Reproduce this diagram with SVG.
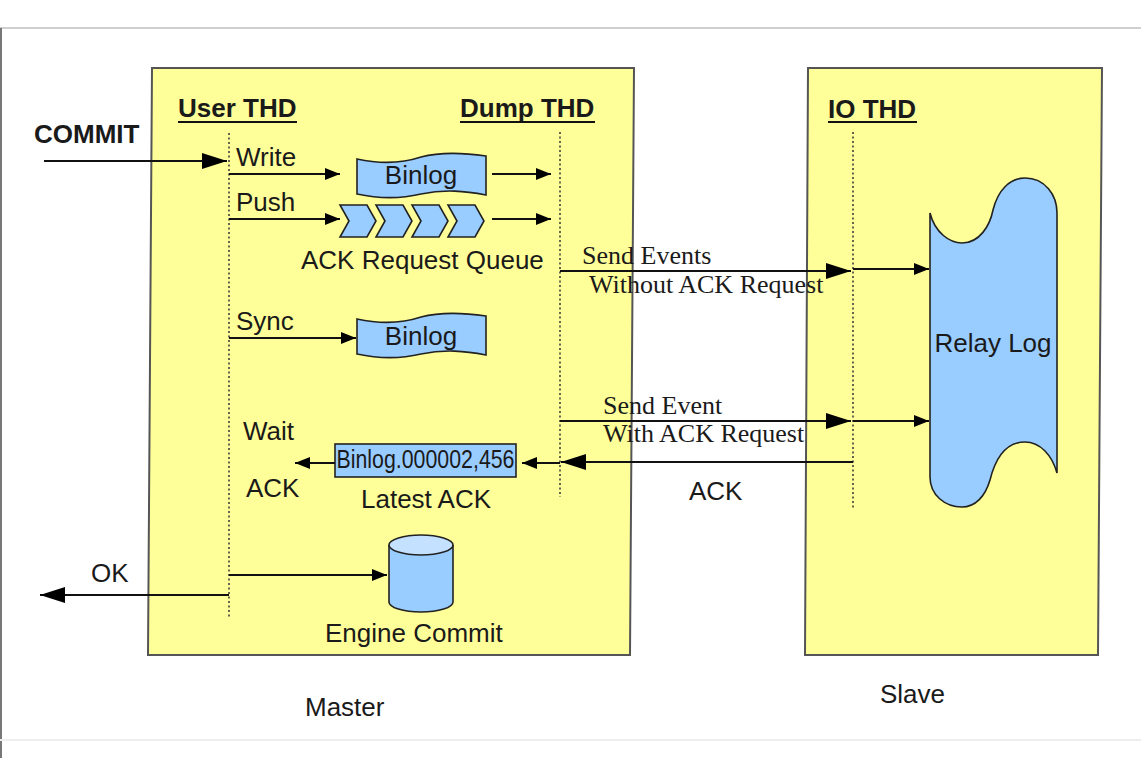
<svg xmlns="http://www.w3.org/2000/svg" width="1141" height="758" viewBox="0 0 1141 758">
  <style>
    .t { font-family: "Liberation Sans", Arial, sans-serif; font-size: 26px; fill: #1a1a1a; }
    .b { font-weight: bold; }
    .s { font-family: "Liberation Serif", "Times New Roman", serif; font-size: 26px; fill: #1a1a1a; }
    .box { fill: #ffff99; stroke: #555; stroke-width: 2; }
    .blue { fill: #99ccff; stroke: #222; stroke-width: 1.6; }
    .life { fill: none; stroke: #333; stroke-width: 1.5; stroke-dasharray: 2 2.5; }
    .ln { fill: none; stroke: #111; stroke-width: 2; }
    .ul { stroke: #111; stroke-width: 2; }
  </style>
  <defs>
    <marker id="ah" markerUnits="userSpaceOnUse" markerWidth="15" markerHeight="12" refX="15" refY="6" orient="auto">
      <path d="M0,0 L15,6 L0,12 Z" fill="#000"/>
    </marker>
    <marker id="ahL" markerUnits="userSpaceOnUse" markerWidth="25" markerHeight="16" refX="25" refY="8" orient="auto">
      <path d="M0,0 L25,8 L0,16 Z" fill="#000"/>
    </marker>
    <!-- punched-tape shape used for the binlog files -->
    <path id="tape" d="M0,3 C23,8 43,8 64,1 C83,-4 108,-3 129,0 L129,39 C108,35 88,33 64,38 C43,43 23,43 0,38 Z"/>
  </defs>

  <!-- page frame -->
  <rect x="0" y="0" width="1141" height="758" fill="#fff"/>
  <line x1="0" y1="28" x2="1141" y2="28" stroke="#d0d0d0" stroke-width="2"/>
  <line x1="1" y1="28" x2="1" y2="758" stroke="#777" stroke-width="2"/>
  <line x1="0" y1="740" x2="1141" y2="740" stroke="#eeeeee" stroke-width="2"/>

  <!-- containers -->
  <g id="master">
    <polygon class="box" points="152,68 634,68 630,655 148,655"/>
    <text class="t" x="305" y="716">Master</text>
  </g>
  <g id="slave">
    <polygon class="box" points="808,68 1102,68 1098,655 805,655"/>
    <text class="t" x="880" y="703">Slave</text>
  </g>

  <!-- thread lifelines -->
  <g id="user-thd">
    <text class="t b" x="178" y="117">User THD</text>
    <line class="ul" x1="178" y1="122" x2="297" y2="122"/>
    <line class="life" x1="229" y1="133" x2="229" y2="618"/>
  </g>
  <g id="dump-thd">
    <text class="t b" x="460" y="117">Dump THD</text>
    <line class="ul" x1="460" y1="122" x2="595" y2="122"/>
    <line class="life" x1="560" y1="132" x2="560" y2="497"/>
  </g>
  <g id="io-thd">
    <text class="t b" x="828" y="118">IO THD</text>
    <line class="ul" x1="828" y1="122" x2="917" y2="122"/>
    <line class="life" x1="853" y1="132" x2="853" y2="510"/>
  </g>

  <!-- nodes -->
  <g id="binlog-write">
    <use href="#tape" x="357" y="156" class="blue"/>
    <text class="t" x="421" y="184" text-anchor="middle">Binlog</text>
  </g>
  <g id="ack-queue">
    <polygon class="blue" points="340,205 367,205 376,221 367,237 340,237 349,221"/>
    <polygon class="blue" points="376,205 403,205 412,221 403,237 376,237 385,221"/>
    <polygon class="blue" points="412,205 439,205 448,221 439,237 412,237 421,221"/>
    <polygon class="blue" points="448,205 475,205 484,221 475,237 448,237 457,221"/>
    <text class="t" x="301" y="269">ACK Request Queue</text>
  </g>
  <g id="binlog-sync">
    <use href="#tape" x="357" y="316" class="blue"/>
    <text class="t" x="421" y="345" text-anchor="middle">Binlog</text>
  </g>
  <g id="latest-ack">
    <rect class="blue" x="335" y="444" width="181" height="33"/>
    <text class="t" x="425.5" y="468" text-anchor="middle" font-size="19.5" textLength="178" lengthAdjust="spacingAndGlyphs">Binlog.000002,456</text>
    <text class="t" x="361" y="508">Latest ACK</text>
  </g>
  <g id="engine-commit">
    <path class="blue" d="M389,545 L389,602 A32,10 0 0 0 453,602 L453,545"/>
    <ellipse cx="421" cy="545" rx="32" ry="10" fill="#c4e2ff" stroke="#222" stroke-width="1.6"/>
    <text class="t" x="325" y="642">Engine Commit</text>
  </g>
  <g id="relay-log">
    <path class="blue" d="M930,213 C935,233 950,243 962,243 C980,243 990,225 993,210 C998,190 1010,178 1025,178 C1045,178 1057,195 1057,213 L1057,473 C1052,455 1040,442 1025,442 C1005,442 995,460 990,480 C985,497 975,507 962,507 C945,507 930,495 930,477 Z"/>
    <text class="t" x="993" y="352" text-anchor="middle">Relay Log</text>
  </g>

  <!-- connectors -->
  <g id="connectors">
    <line class="ln" x1="44" y1="161" x2="227" y2="161" marker-end="url(#ahL)"/>
    <line class="ln" x1="229" y1="174" x2="340" y2="174" marker-end="url(#ah)"/>
    <line class="ln" x1="492" y1="174" x2="551" y2="174" marker-end="url(#ah)"/>
    <line class="ln" x1="229" y1="219" x2="340" y2="219" marker-end="url(#ah)"/>
    <line class="ln" x1="492" y1="219" x2="551" y2="219" marker-end="url(#ah)"/>
    <line class="ln" x1="229" y1="338" x2="356" y2="338" marker-end="url(#ah)"/>
    <line class="ln" x1="560" y1="271" x2="851" y2="271" marker-end="url(#ahL)"/>
    <line class="ln" x1="853" y1="269" x2="929" y2="269" marker-end="url(#ah)"/>
    <line class="ln" x1="560" y1="421" x2="851" y2="421" marker-end="url(#ahL)"/>
    <line class="ln" x1="853" y1="421" x2="929" y2="421" marker-end="url(#ah)"/>
    <line class="ln" x1="853" y1="462" x2="561" y2="462" marker-end="url(#ahL)"/>
    <line class="ln" x1="560" y1="463" x2="522" y2="463" marker-end="url(#ah)"/>
    <line class="ln" x1="335" y1="463" x2="295" y2="463" marker-end="url(#ah)"/>
    <line class="ln" x1="229" y1="575" x2="387" y2="575" marker-end="url(#ah)"/>
    <line class="ln" x1="229" y1="595" x2="40" y2="595" marker-end="url(#ahL)"/>
  </g>

  <!-- connector labels -->
  <g id="labels">
    <text class="t b" x="34" y="143">COMMIT</text>
    <text class="t" x="236" y="166">Write</text>
    <text class="t" x="236" y="211">Push</text>
    <text class="t" x="236" y="330">Sync</text>
    <text class="s" x="582" y="264">Send Events</text>
    <text class="s" x="589" y="293">Without ACK Request</text>
    <text class="s" x="603" y="414">Send Event</text>
    <text class="s" x="603" y="442">With ACK Request</text>
    <text class="t" x="689" y="500">ACK</text>
    <text class="t" x="243" y="440">Wait</text>
    <text class="t" x="246" y="497">ACK</text>
    <text class="t" x="91" y="582">OK</text>
  </g>
</svg>
